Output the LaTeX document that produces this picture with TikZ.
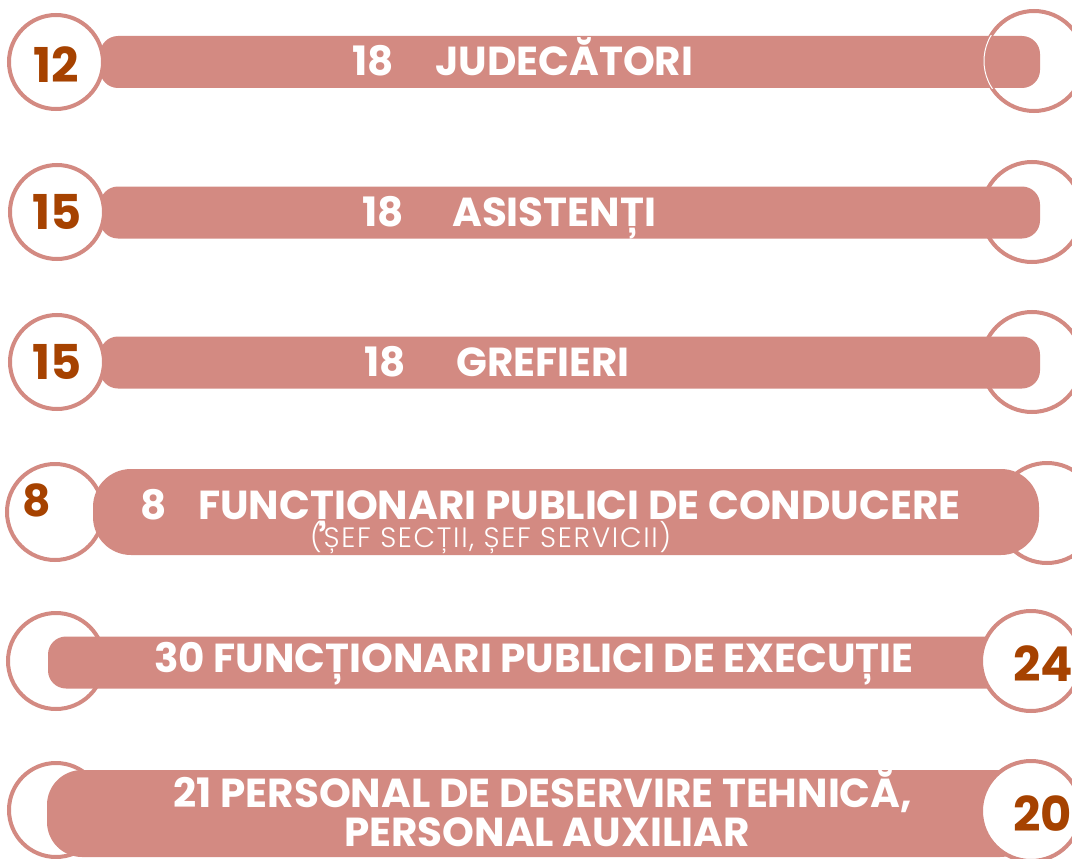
\documentclass[tikz,border=0pt]{standalone}
\usepackage{fontspec}
\setmainfont{Poppins}
\newfontfamily\thinfont{Poppins Light}[LetterSpace=6]
\usetikzlibrary{positioning}
\definecolor{rosebar}{RGB}{211,138,130}
\definecolor{rustnum}{RGB}{166,66,0}

\begin{document}
\begin{tikzpicture}[x=1pt,y=-1pt]
    \tikzstyle{ring}=[shape=circle,draw=rosebar,fill=white,line width=4pt,minimum size=94pt,inner sep=0pt]
    \tikzstyle{bigring}=[ring,minimum size=100pt]
    \tikzstyle{band}=[shape=rectangle,fill=rosebar,rounded corners=18pt,inner sep=0pt,minimum height=52pt]
    \tikzstyle{fatband}=[band,rounded corners=38pt,minimum height=86pt]
    \tikzstyle{num}=[text=rustnum,font=\bfseries\fontsize{48}{48}\selectfont,inner sep=0pt]
    \tikzstyle{barlabel}=[text=white,font=\bfseries\fontsize{40.5}{40.5}\selectfont,inner sep=0pt,anchor=base west]
    \tikzstyle{sublabel}=[text=white,font=\thinfont\fontsize{28}{28}\selectfont,inner sep=0pt,anchor=base west]

    \useasboundingbox (0,0) rectangle (1072,859);

    % judecatori
    \node[bigring] (R1) at (1034,61) {};
    \node[band,minimum width=940pt] (B1) at (570,62) {};
    \begin{scope}
      \clip (B1.north west) rectangle (B1.south east);
      \draw[white,line width=1pt] (R1.center) circle (50pt);
    \end{scope}
    \node[ring] (L1) at (56,62) {};
    \node[num,yshift=-3pt] (N1) at (L1) {12};
    \node[barlabel] (C1) at (352,76) {18};
    \node[barlabel] (T1) at (435,76) {JUDECĂTORI};

    % asistenti
    \node[bigring] (R2) at (1032,212) {};
    \node[band,minimum width=940pt] (B2) at (570,212.5) {};
    \node[ring] (L2) at (57,212) {};
    \node[num] (N2) at (L2) {15};
    \node[barlabel] (C2) at (362,226) {18};
    \node[barlabel] (T2) at (452,226) {ASISTENȚI};

    % grefieri
    \node[bigring] (R3) at (1032,362) {};
    \node[band,minimum width=940pt] (B3) at (570,362.5) {};
    \node[ring] (L3) at (57,362) {};
    \node[num] (N3) at (L3) {15};
    \node[barlabel] (C3) at (364,376) {18};
    \node[barlabel] (T3) at (456,376) {GREFIERI};

    % conducere
    \node[bigring] (R4) at (1047,513) {};
    \node[ring,minimum size=96pt] (L4) at (55,512) {};
    \node[fatband,minimum width=946pt] (B4) at (566,512) {};
    \node[num,font=\bfseries\fontsize{44}{44}\selectfont] (N4) at (37,500) {8};
    \node[barlabel] (C4) at (140,519.5) {8};
    \node[barlabel] (T4) at (198,519.5) {FUNCȚIONARI PUBLICI DE CONDUCERE};
    \node[sublabel] (S4) at (310,547) {(ȘEF SECȚII, ȘEF SERVICII)};

    % executie
    \node[ring,minimum size=96pt] (L5) at (56,661) {};
    \node[band,minimum width=990pt] (B5) at (543,662.5) {};
    \node[bigring] (R5) at (1031,661) {};
    \node[num,anchor=west] (N5) at (1013,664) {24};
    \node[barlabel] (T5) at (154,672) {30 FUNCȚIONARI PUBLICI DE EXECUȚIE};

    % personal auxiliar
    \node[ring] (L6) at (56,810) {};
    \node[fatband,minimum width=988pt,minimum height=87pt,rounded corners=35pt] (B6) at (541,813.5) {};
    \node[bigring] (R6) at (1031,811) {};
    \node[num,anchor=west] (N6) at (1013,814) {20};
    \node[barlabel,anchor=base] (T6) at (543,807.5) {21 PERSONAL DE DESERVIRE TEHNICĂ,};
    \node[barlabel,anchor=base] (U6) at (547,846) {PERSONAL AUXILIAR};

\end{tikzpicture}
\end{document}
